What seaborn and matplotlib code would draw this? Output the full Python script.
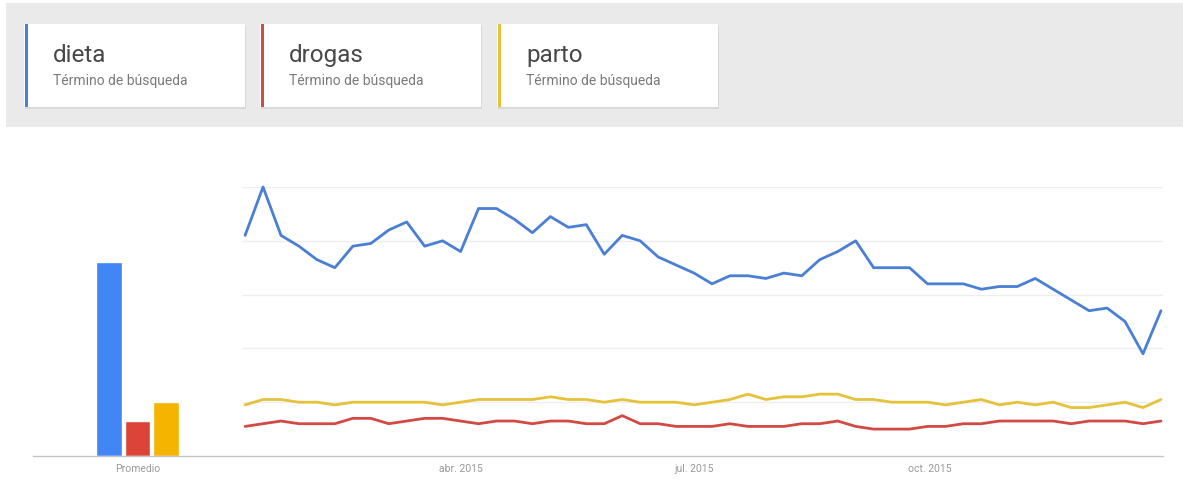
import pandas as pd
import seaborn as sns
import matplotlib.pyplot as plt
from matplotlib.patches import Rectangle

# datos (Google Trends, 2015, semanal)
terms = ["dieta", "drogas", "parto"]
subtitle = "Término de búsqueda"
bar_colors = ["#4285f4", "#db4437", "#f4b400"]
line_colors = ["#4a7fd6", "#d24a44", "#e6c23a"]
promedio = [72, 13, 20]

weeks = pd.date_range("2015-01-07", periods=52, freq="7D")
dieta = [82, 100, 82, 78, 73, 70, 78, 79, 84, 87, 78, 80, 76, 92, 92, 88, 83, 89, 85, 86,
         75, 82, 80, 74, 71, 68, 64, 67, 67, 66, 68, 67, 73, 76, 80, 70, 70, 70, 64, 64,
         64, 62, 63, 63, 66, 62, 58, 54, 55, 50, 38, 54]
drogas = [11, 12, 13, 12, 12, 12, 14, 14, 12, 13, 14, 14, 13, 12, 13, 13, 12, 13, 13, 12,
          12, 15, 12, 12, 11, 11, 11, 12, 11, 11, 11, 12, 12, 13, 11, 10, 10, 10, 11, 11,
          12, 12, 13, 13, 13, 13, 12, 13, 13, 13, 12, 13]
parto = [19, 21, 21, 20, 20, 19, 20, 20, 20, 20, 20, 19, 20, 21, 21, 21, 21, 22, 21, 21,
         20, 21, 20, 20, 20, 19, 20, 21, 23, 21, 22, 22, 23, 23, 21, 21, 20, 20, 20, 19,
         20, 21, 19, 20, 19, 20, 18, 18, 19, 20, 18, 21]
month_ticks = ["2015-04-01", "2015-07-01", "2015-10-01"]
month_labels = ["abr. 2015", "jul. 2015", "oct. 2015"]

df = pd.DataFrame({
    "semana": list(weeks) * 3,
    "valor": dieta + drogas + parto,
    "termino": [t for t in terms for _ in range(len(weeks))],
})

sns.set_style("white")
plt.rcParams["font.family"] = ["Roboto", "DejaVu Sans"]

W, H = 1183, 481
fig = plt.figure(figsize=(W / 100, H / 100), dpi=100)

def box(left, top, right, bottom):
    return [left / W, 1 - bottom / H, (right - left) / W, (bottom - top) / H]

# promedio
ax_bar = fig.add_axes(box(33, 188, 242, 457))
sns.barplot(x=terms, y=promedio, hue=terms, palette=bar_colors, width=0.9,
            saturation=1, legend=False, ax=ax_bar)
ax_bar.set_xlim(-2.67, 4.67)
ax_bar.set_ylim(0, 100)
ax_bar.set_xticks([1])
ax_bar.set_xticklabels(["Promedio"])
ax_bar.set_yticks([])

# lineas
ax = fig.add_axes(box(242, 188, 1163, 457))
sns.lineplot(data=df, x="semana", y="valor", hue="termino", palette=line_colors,
             linewidth=2.0, legend=False, ax=ax)
for ln in ax.lines:
    ln.set_clip_on(False)
ax.set_xlim(weeks[0] - pd.Timedelta(days=1.2), weeks[-1] + pd.Timedelta(days=0.8))
ax.set_ylim(0, 100)
ax.set_yticks([20, 40, 60, 80, 100])
ax.set_yticklabels([])
ax.yaxis.grid(True, color="#eeeeee", linewidth=1)
ax.set_axisbelow(True)
ax.set_xticks(pd.to_datetime(month_ticks))
ax.set_xticklabels(month_labels)

for a in (ax_bar, ax):
    a.set_xlabel("")
    a.set_ylabel("")
    sns.despine(ax=a, left=True)
    a.spines["bottom"].set_color("#c4c4c4")
    a.spines["bottom"].set_linewidth(1)
    a.tick_params(axis="x", length=0, pad=5, labelsize=7.5, labelcolor="#9a9a9a")
    a.tick_params(axis="y", length=0)

# cabecera con tarjetas
ax_top = fig.add_axes([0, 0, 1, 1])
ax_top.set_xlim(0, W)
ax_top.set_ylim(H, 0)
ax_top.axis("off")
ax_top.add_patch(Rectangle((6, 4), W - 6, 124, color="#ebeaea", lw=0))
card_x = [24, 260, 497]
for x0, term, col in zip(card_x, terms, line_colors):
    ax_top.add_patch(Rectangle((x0 + 1, 26.5), 221, 83, color="#d9d9d9", lw=0))
    ax_top.add_patch(Rectangle((x0, 25), 221, 83, color="white", lw=0))
    ax_top.add_patch(Rectangle((x0 + 1, 25), 3, 83, color=col, lw=0))
    ax_top.text(x0 + 29, 62, term, fontsize=17.5, color="#484848", va="baseline")
    ax_top.text(x0 + 29, 85, subtitle, fontsize=10, color="#7a7a7a", va="baseline")

fig.savefig("out.png", dpi=100)
